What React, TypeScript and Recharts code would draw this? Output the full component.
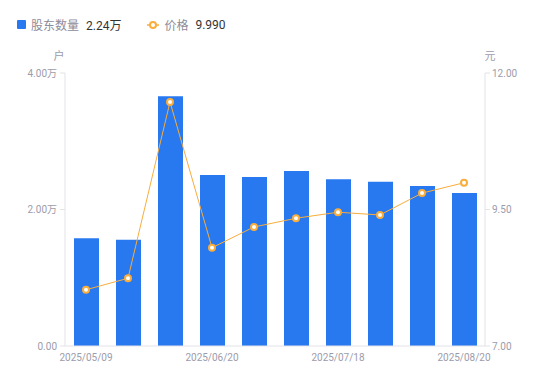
import React from 'react';
import { ComposedChart, Bar, Line, XAxis, YAxis } from 'recharts';

const dates = ['2025/05/09', '2025/05/20', '2025/05/30', '2025/06/20', '2025/06/30', '2025/07/10', '2025/07/18', '2025/07/31', '2025/08/10', '2025/08/20'];
const holders = [15800, 15550, 36600, 25050, 24750, 25650, 24450, 24050, 23450, 22400];
const prices = [8.03, 8.24, 11.47, 8.8, 9.18, 9.34, 9.45, 9.4, 9.8, 9.99];
const leftTicks = [0, 20000, 40000];
const rightTicks = [7, 9.5, 12];

const data = dates.map((d, i) => ({ date: d, holders: holders[i], price: prices[i] }));

const BLUE = '#2878F0';
const ORANGE = '#F8AD3C';
const TEXT = '#9c9cab';
const AXIS = '#e3e3e8';
const FONT = "Roboto, Arial, 'Liberation Sans', 'Noto Sans CJK SC', sans-serif";

const fmtLeft = (v: number) => (v === 0 ? '0.00' : (v / 10000).toFixed(2) + '万');
const fmtRight = (v: number) => v.toFixed(2);

export default function App() {
  return (
    <div style={{ position: 'absolute', left: 0, top: 0, width: 550, height: 381, fontFamily: FONT }}>
      <div style={{ position: 'absolute', left: 17, top: 16, display: 'flex', alignItems: 'center', fontSize: 12, whiteSpace: 'nowrap' }}>
        <span style={{ display: 'inline-block', width: 9, height: 9, background: BLUE, borderRadius: 1, marginRight: 5 }} />
        <span style={{ color: '#8c8c9a' }}>股东数量</span>
        <span style={{ color: '#333', marginLeft: 7 }}>2.24万</span>
        <svg width={12} height={10} style={{ marginLeft: 26, marginRight: 5 }}>
          <line x1={0} y1={5} x2={12} y2={5} stroke={ORANGE} strokeWidth={1.5} />
          <circle cx={6} cy={5} r={3} fill="#fff" stroke={ORANGE} strokeWidth={2} />
        </svg>
        <span style={{ color: '#8c8c9a' }}>价格</span>
        <span style={{ color: '#333', marginLeft: 7 }}>9.990</span>
      </div>
      <ComposedChart width={550} height={381} data={data} margin={{ top: 73, right: 0, left: 0, bottom: 0 }} barCategoryGap="20%">
        <XAxis
          dataKey="date"
          interval={2}
          tickLine={false}
          axisLine={{ stroke: AXIS }}
          height={35}
          tick={{ fill: TEXT, fontSize: 10, fontFamily: FONT }}
          tickMargin={2}
        />
        <YAxis
          yAxisId="left"
          orientation="left"
          width={65}
          domain={[0, 40000]}
          ticks={leftTicks}
          tickFormatter={fmtLeft}
          axisLine={{ stroke: AXIS }}
          tickLine={{ stroke: AXIS }}
          tickSize={5}
          tickMargin={3}
          tick={{ fill: TEXT, fontSize: 10, fontFamily: FONT }}
          label={(props: any) => {
            const vb = props.viewBox || {};
            return (
              <text x={(vb.x || 0) + (vb.width || 65) - 6} y={(vb.y || 73) - 13} textAnchor="middle" fill={TEXT} fontSize={11} fontFamily={FONT}>户</text>
            );
          }}
        />
        <YAxis
          yAxisId="right"
          orientation="right"
          width={65}
          domain={[7, 12]}
          ticks={rightTicks}
          tickFormatter={fmtRight}
          axisLine={{ stroke: AXIS }}
          tickLine={{ stroke: AXIS }}
          tickSize={5}
          tickMargin={2}
          tick={{ fill: TEXT, fontSize: 10, fontFamily: FONT }}
          label={(props: any) => {
            const vb = props.viewBox || {};
            return (
              <text x={(vb.x || 485) + 5} y={(vb.y || 73) - 13} textAnchor="middle" fill={TEXT} fontSize={11} fontFamily={FONT}>元</text>
            );
          }}
        />
        <Bar yAxisId="left" dataKey="holders" fill={BLUE} barSize={25} isAnimationActive={false} />
        <Line
          yAxisId="right"
          dataKey="price"
          type="linear"
          stroke={ORANGE}
          strokeWidth={1}
          dot={{ r: 3, fill: '#fff', stroke: ORANGE, strokeWidth: 2 }}
          activeDot={false}
          isAnimationActive={false}
        />
      </ComposedChart>
    </div>
  );
}
